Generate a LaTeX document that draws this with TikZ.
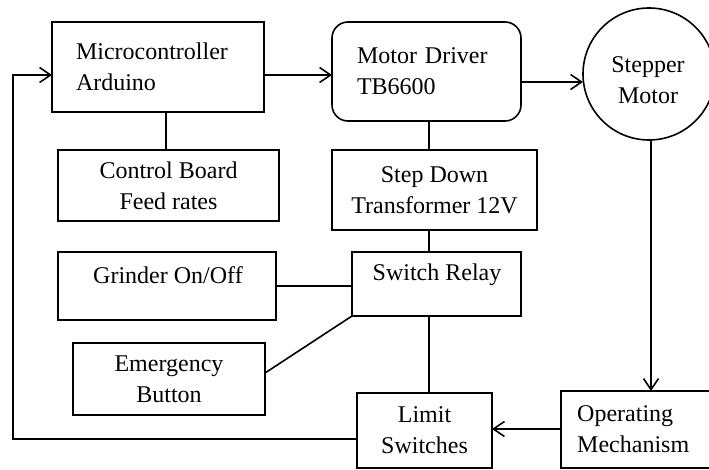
\documentclass[tikz,border=0pt]{standalone}
\usepackage{fontspec}
\setmainfont{Liberation Serif}
\usetikzlibrary{arrows.meta}
\begin{document}
\begin{tikzpicture}[x=1pt,y=-1pt,
  lw/.style={line width=1.6pt},
  box/.style={draw,lw,outer sep=0pt,inner sep=0pt},
  txt/.style={font=\fontsize{24}{31}\selectfont,align=center,inner sep=0pt},
  arr/.style={lw,-{Straight Barb[length=11pt,width=15pt,line width=1.6pt]}},
  ln/.style={lw}]
\useasboundingbox (0,0) rectangle (709,470);
% boxes
\node[box,txt,minimum width=212pt,minimum height=90pt,text width=164pt,align=left,inner xsep=24pt] (micro) at (158,67) {Microcontroller\\Arduino};
\node[box,txt,rounded corners=16pt,minimum width=189pt,minimum height=99pt,text width=139pt,align=left,inner xsep=25pt] (motor) at (426.5,71.5) {Motor Driver\\TB6600};
\node[box,circle,minimum size=132pt] (stepper) at (649,74) {};
\node[txt] (steppertxt) at (648,80) {Stepper\\Motor};
\node[box,txt,minimum width=221pt,minimum height=71pt] (ctrl) at (168.5,185.5) {Control Board\\Feed rates};
\node[box,txt,minimum width=205pt,minimum height=80pt] (stepdown) at (434.5,190) {Step Down\\Transformer 12V};
\node[box,minimum width=218pt,minimum height=68pt] (grinder) at (167,286) {};
\node[txt] (grindertxt) at (168,275) {Grinder On/Off};
\node[box,minimum width=169pt,minimum height=64pt] (relay) at (436.5,284) {};
\node[txt] (relaytxt) at (437,275) {Switch Relay};
\node[box,txt,minimum width=192pt,minimum height=72pt] (emerg) at (169,379) {Emergency\\Button};
\node[box,txt,minimum width=135pt,minimum height=75pt] (limit) at (424.5,430.5) {Limit\\Switches};
\node[box,minimum width=159pt,minimum height=77pt] (oper) at (640.5,429.5) {};
\node[txt,anchor=west,align=left] (opertxt) at (577,429) {Operating\\Mechanism};
% helper coordinates
\coordinate (fbx) at (13,439);
\coordinate (fby) at (13,75);
\coordinate (vx) at (429,0);
\coordinate (sx) at (651,0);
% connectors
\draw[arr] (limit.west |- fbx) -- (fbx) -- (fby) -- (micro.west |- fby);
\draw[arr] (micro.east |- fby) -- (motor.west |- fby);
\draw[arr] (motor.east |- 0,82) -- (stepper.west |- 0,82);
\draw[arr] (sx |- stepper.south) -- (sx |- oper.north);
\draw[arr] (oper.west |- 0,429) -- (limit.east |- 0,429);
\draw[ln] (ctrl.north -| 166,0) -- (micro.south -| 166,0);
\draw[ln] (vx |- motor.south) -- (vx |- stepdown.north);
\draw[ln] (vx |- stepdown.south) -- (vx |- relay.north);
\draw[ln] (vx |- relay.south) -- (vx |- limit.north);
\draw[ln] (grinder.east) -- (relay.west |- grinder.east);
\draw[ln] (emerg.east |- 0,373) -- (relay.south west);
\end{tikzpicture}
\end{document}
